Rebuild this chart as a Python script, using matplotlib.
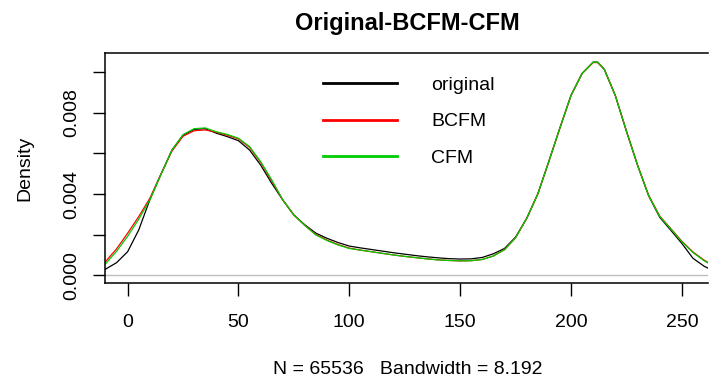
import matplotlib
matplotlib.use("Agg")
import matplotlib.pyplot as plt

plt.rcParams['font.family'] = ['Liberation Sans', 'DejaVu Sans']

# density estimates, x every 5 units
grid = [-10, -5, 0, 5, 10, 15, 20, 25, 30, 35, 40, 45, 50, 55, 60, 65,
        70, 75, 80, 85, 90, 95, 100, 105, 110, 115, 120, 125, 130, 135,
        140, 145, 150, 155, 160, 165, 170, 175, 180, 185, 190, 195, 200,
        205, 210, 212, 215, 220, 225, 230, 235, 240, 245, 250, 255, 260, 262]

original = [0.00030, 0.00062, 0.00116, 0.00223, 0.00371, 0.00497, 0.00617,
            0.00690, 0.00719, 0.00722, 0.00700, 0.00683, 0.00663, 0.00617,
            0.00543, 0.00453, 0.00371, 0.00297, 0.00248, 0.00207, 0.00182,
            0.00161, 0.00144, 0.00135, 0.00127, 0.00119, 0.00111, 0.00104,
            0.00097, 0.00091, 0.00086, 0.00082, 0.00080, 0.00081, 0.00088,
            0.00106, 0.00132, 0.00188, 0.00280, 0.00400, 0.00561, 0.00726,
            0.00886, 0.00994, 0.01050, 0.01050, 0.01015, 0.00885, 0.00710,
            0.00543, 0.00392, 0.00286, 0.00222, 0.00157, 0.00084, 0.00045,
            0.00034]

bcfm = [0.00067, 0.00130, 0.00207, 0.00289, 0.00379, 0.00497, 0.00612,
        0.00685, 0.00712, 0.00716, 0.00705, 0.00690, 0.00672, 0.00630,
        0.00556, 0.00466, 0.00371, 0.00297, 0.00245, 0.00200, 0.00173,
        0.00151, 0.00134, 0.00124, 0.00116, 0.00108, 0.00100, 0.00093,
        0.00087, 0.00081, 0.00076, 0.00073, 0.00071, 0.00072, 0.00078,
        0.00095, 0.00126, 0.00185, 0.00280, 0.00400, 0.00561, 0.00726,
        0.00886, 0.00994, 0.01048, 0.01048, 0.01015, 0.00885, 0.00710,
        0.00543, 0.00395, 0.00292, 0.00230, 0.00168, 0.00115, 0.00075,
        0.00062]

cfm = [0.00056, 0.00118, 0.00192, 0.00276, 0.00371, 0.00495, 0.00617,
       0.00693, 0.00722, 0.00726, 0.00707, 0.00694, 0.00675, 0.00634,
       0.00560, 0.00470, 0.00371, 0.00297, 0.00245, 0.00198, 0.00171,
       0.00149, 0.00132, 0.00124, 0.00116, 0.00108, 0.00100, 0.00093,
       0.00087, 0.00081, 0.00076, 0.00073, 0.00071, 0.00072, 0.00078,
       0.00095, 0.00126, 0.00185, 0.00280, 0.00400, 0.00561, 0.00726,
       0.00886, 0.00994, 0.01050, 0.01050, 0.01015, 0.00885, 0.00710,
       0.00543, 0.00393, 0.00290, 0.00228, 0.00165, 0.00112, 0.00072,
       0.00059]

series_names = ["original", "BCFM", "CFM"]
series_colors = ["black", "#ff0000", "#00cc00"]

x_ticks = [0, 50, 100, 150, 200, 250]
y_ticks = [0.000, 0.002, 0.004, 0.006, 0.008, 0.010]
y_labels = ["0.000", "", "0.004", "", "0.008", ""]

fig = plt.figure(figsize=(7.09, 3.81), dpi=100)
ax = fig.add_axes([0.1481, 0.2572, 0.8505, 0.6037])

ax.axhline(0, color="#bebebe", lw=1)
for vals, name, col in zip([original, bcfm, cfm], series_names, series_colors):
    ax.plot(grid, vals, color=col, lw=0.9, label=name)

ax.set_xlim(-10.2, 261.8)
ax.set_ylim(-0.00038, 0.01095)
ax.set_xticks(x_ticks)
ax.set_yticks(y_ticks)
ax.set_yticklabels(y_labels, rotation=90, va="center")
ax.tick_params(direction="out", length=9, width=1, labelsize=14)
ax.tick_params(axis="x", pad=13)
ax.tick_params(axis="y", pad=9)
for side in ["left", "top", "bottom"]:
    ax.spines[side].set_linewidth(1.1)
ax.spines["right"].set_visible(False)

fig.text(0.0353, 0.559, "Density", fontsize=14, rotation=90,
         ha="center", va="center")
fig.text(0.5747, 0.030, "N = 65536   Bandwidth = 8.192", fontsize=14,
         ha="center", va="center")
fig.text(0.5747, 0.9396, "Original-BCFM-CFM", fontsize=17,
         fontweight="bold", ha="center", va="center")

leg = ax.legend(loc="upper left", bbox_to_anchor=(0.3325, 0.974),
                frameon=False, fontsize=14, handlelength=3.8,
                handletextpad=1.75, labelspacing=0.96)
for line in leg.get_lines():
    line.set_linewidth(2)

fig.savefig("out.png", dpi=100)
